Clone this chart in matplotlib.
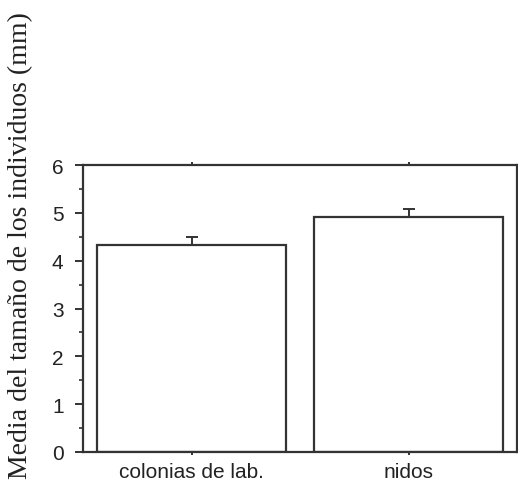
import matplotlib
matplotlib.use("Agg")
import matplotlib.pyplot as plt
from matplotlib.ticker import MultipleLocator

categories = ["colonias de lab.", "nidos"]
means = [4.33, 4.92]
errors = [0.17, 0.16]
yticks = [0, 1, 2, 3, 4, 5, 6]

W, H = 518, 489
fig = plt.figure(figsize=(W / 100, H / 100), dpi=100)
ax = fig.add_axes([83 / W, 1 - 453 / H, (517 - 83) / W, (453 - 166) / H])

x = list(range(len(categories)))
ax.bar(x, means, width=0.87, color="white", edgecolor="#333333", linewidth=1.6, zorder=2)
ax.errorbar(x, means, yerr=[[0] * len(errors), errors], fmt="none", ecolor="#333333",
            elinewidth=1.4, capsize=4, capthick=1.4, zorder=3)

ax.set_xlim(-0.5, 1.5)
ax.set_ylim(0, 6)
ax.set_yticks(yticks)
ax.yaxis.set_minor_locator(MultipleLocator(0.5))
ax.set_xticks(x)
ax.set_xticklabels(categories)

for s in ax.spines.values():
    s.set_color("#333333")
    s.set_linewidth(1.6)

ax.tick_params(axis="y", which="major", direction="out", length=6, width=1.4, color="#333333",
               labelsize=15, labelcolor="#222222", pad=8)
ax.tick_params(axis="y", which="minor", direction="out", length=3, width=1.2, color="#333333")
ax.tick_params(axis="x", which="major", direction="out", length=2.5, width=1.4, color="#333333",
               labelsize=15, labelcolor="#222222", pad=5, top=True)
for lbl in ax.get_xticklabels() + ax.get_yticklabels():
    lbl.set_family(["Liberation Sans", "DejaVu Sans"])

fig.text(21 / W, 1 - 246 / H, "Media del tamaño de los individuos (mm)", rotation=90,
         ha="center", va="center", fontsize=20, family=["Liberation Serif", "DejaVu Serif"],
         color="#222222")

fig.savefig("out.png", dpi=100, facecolor="white")
